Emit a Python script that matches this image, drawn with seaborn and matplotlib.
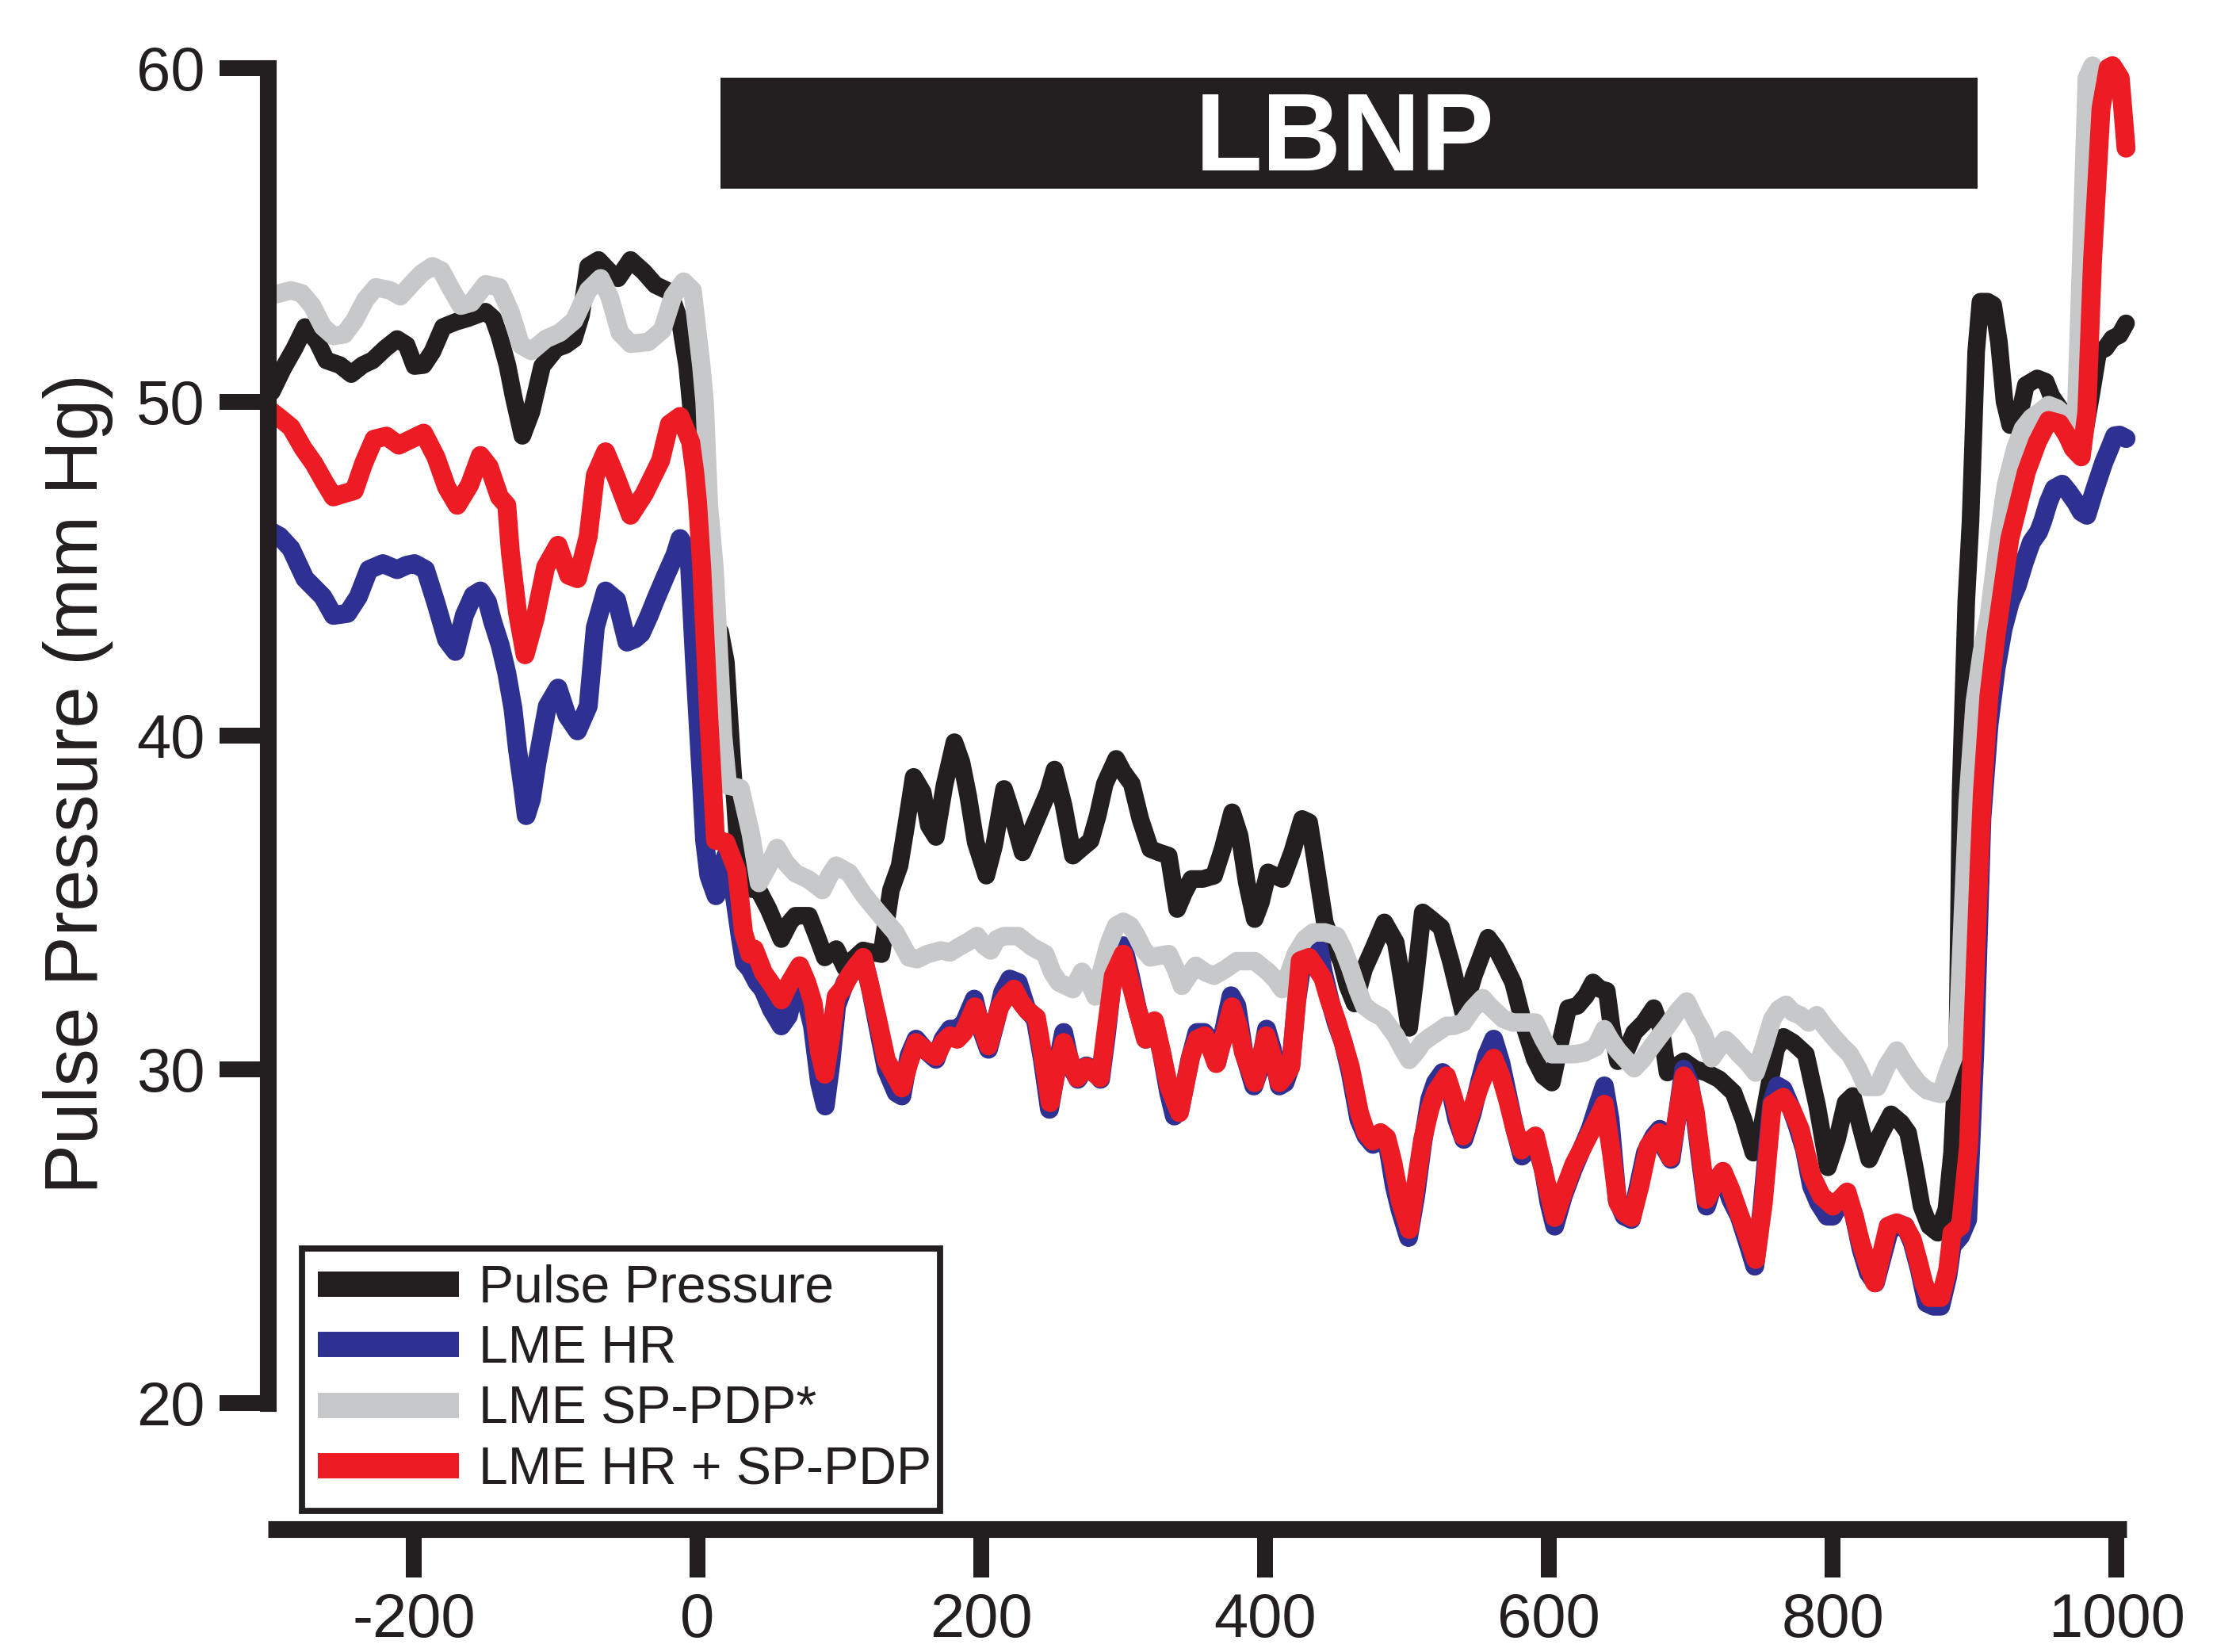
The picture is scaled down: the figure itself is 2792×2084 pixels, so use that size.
import matplotlib
matplotlib.use("Agg")
import matplotlib.pyplot as plt
from matplotlib.patches import Rectangle
from matplotlib.lines import Line2D
import seaborn as sns
import pandas as pd

# ---------------- data ----------------
pp_x = [-300, -292, -284, -276.6, -268, -261.6, -252, -244, -236, -229, -220, -211.7, -205, -199.4, -193,
        -186.8, -179.3, -170, -162, -149.4, -144, -139.6, -134, -129.6, -123.4, -117, -109.5, -99.5, -93,
        -87.1, -82, -77.1, -69.8, -62, -56, -47.2, -38, -29.7, -19.8, -12.3, -7.3, -2.2, 0, 5, 10, 16, 20,
        24, 28, 32, 38, 43, 50, 59, 65, 69, 78.5, 84, 89.7, 97.7, 104, 110, 116.7, 123, 129.6, 136.3,
        142.4, 147, 152.3, 158.7, 163, 168, 174, 181, 186, 190.7, 196, 203.5, 209, 216, 222, 229, 235,
        242, 247, 251.6, 258, 264.5, 270, 277, 282, 287, 295, 300, 306, 312, 319, 325, 332, 338, 343,
        348, 356, 364, 370, 376.7, 382, 387, 392.6, 397, 402, 407, 412, 419, 426, 431, 434, 442, 448,
        453.5, 458, 463, 469.7, 476, 484, 492, 497, 501.5, 506, 511, 517, 524, 531, 539.5, 547, 557,
        563, 569, 574.7, 582.5, 590, 596, 602, 608, 613.5, 620, 626, 631, 636, 640.7, 644, 648.5, 655,
        660, 667, 673.8, 679, 683.5, 690, 695, 703, 710.8, 720, 730, 737, 744, 750, 755.5, 760, 765.2,
        772, 781, 789, 796.5, 803, 809, 814, 820, 825.6, 833, 841, 848, 853, 858, 862.5, 868, 874, 880,
        884, 887.8, 890, 894, 897, 901, 904, 909, 913, 917, 921, 925, 929, 933, 936, 944, 950, 954, 960,
        967.5, 972, 977, 982, 987, 992, 997, 1002, 1006.6]
pp_y = [50.3, 51.0, 51.6, 52.24, 51.8, 51.24, 51.1, 50.83, 51.1, 51.24, 51.6, 51.88, 51.7, 51.07, 51.1,
        51.5, 52.24, 52.4, 52.5, 52.7, 52.5, 51.97, 51.1, 50.15, 48.98, 49.7, 51.07, 51.6, 51.7,
        51.88, 52.6, 54.06, 54.25, 53.9, 53.7, 54.25, 53.9, 53.5, 53.3, 52.4, 51.07, 48.8, 47.5, 45.0,
        43.5, 43.1, 42.2, 39.5, 37.0, 35.8, 35.4, 35.37, 34.8, 33.9, 34.4, 34.6, 34.6, 34.0, 33.35,
        33.6, 33.04, 33.3, 33.56, 33.5, 33.45, 35.37, 36.1, 37.3, 38.76, 38.3, 37.3, 36.96, 38.5, 39.8,
        39.2, 38.2, 36.8, 35.8, 36.7, 38.4, 37.6, 36.5, 37.1, 37.8, 38.3, 38.98, 37.9, 36.4, 36.6,
        36.85, 37.6, 38.55, 39.3, 38.9, 38.55, 37.5, 36.6, 36.5, 36.4, 34.8, 35.3, 35.7, 35.7, 35.8,
        36.6, 37.7, 37.0, 35.6, 34.5, 35.0, 35.9, 35.8, 35.7, 36.5, 37.5, 37.4, 36.6, 34.4, 33.7,
        33.25, 32.5, 31.97, 33.0, 33.6, 34.4, 33.8, 32.5, 31.24, 32.8, 34.7, 34.5, 34.25, 33.2, 31.7,
        32.8, 33.94, 33.6, 33.1, 32.6, 31.3, 30.3, 29.8, 29.6, 30.8, 31.83, 31.9, 32.2, 32.6, 32.4,
        32.35, 31.3, 30.24, 30.6, 31.1, 31.4, 31.83, 31.2, 29.9, 30.1, 30.24, 30.0, 29.9, 29.7, 29.3,
        28.5, 27.5, 28.3, 29.6, 30.6, 30.97, 30.8, 30.45, 28.9, 27.06, 27.9, 29.0, 29.2, 28.2, 27.3,
        28.0, 28.65, 28.4, 28.1, 27.0, 25.9, 25.3, 25.1, 25.8, 27.5, 30.86, 38.3, 44.0, 46.4, 51.5,
        53.0, 53.0, 52.9, 51.8, 50.0, 49.3, 49.3, 49.9, 50.5, 50.7, 50.6, 50.17, 49.8, 48.8, 48.7,
        48.98, 50.2, 51.5, 51.6, 51.9, 52.0, 52.35]

hr_x = [-300, -294.5, -286.5, -276.6, -264, -256.6, -246.6, -239, -231.6, -221.7, -211.7, -205, -199.4,
        -191.7, -184.3, -176.8, -170.6, -164.3, -158, -153, -148, -144.4, -139, -134.4, -130, -126.9,
        -123, -120.7, -117, -113.3, -105.8, -98.3, -92, -84.6, -77, -72, -64.8, -57, -49.7, -44, -39.7,
        -34, -29.7, -22.3, -16, -12.3, -6, -2.2, 2.7, 5, 8, 13, 17, 20, 25, 30, 33, 37, 42, 46, 52, 59,
        64, 68, 72, 77, 81, 86, 90, 94, 98, 104, 110, 117, 122, 127, 133, 140, 144, 149, 154, 160, 168,
        173, 178, 183, 188, 195, 200, 205, 210, 215, 220, 226, 232, 238, 243, 248, 253, 258, 263, 268,
        274, 279, 284, 288, 293, 300, 305, 310, 316, 322, 327, 332, 336, 340, 347, 352, 357, 361, 366,
        371, 376, 380, 385, 392, 396, 401, 405, 410, 414, 418, 422, 428, 433, 438, 441, 446, 450, 455,
        460, 466, 471, 476, 482, 486, 491, 495, 501, 506, 511, 516, 520, 525, 530, 535, 540, 546, 551,
        556, 561, 566, 571, 576, 581, 586, 590, 596, 600, 604, 610, 617, 623, 629, 635, 639, 643, 648,
        653, 658, 663, 668, 674, 678, 682, 686, 691, 695, 699, 703, 707, 711, 716, 722, 728, 734, 740,
        745, 750, 754, 757, 761, 765, 770, 775, 780, 785, 790, 796, 800, 805, 810, 815, 820, 825, 830,
        835, 840, 846, 851, 856, 861, 866, 871, 876, 881, 884, 890, 895, 900, 905, 910, 915, 920, 925,
        930, 935, 940, 945, 948, 952, 956, 961.6, 966, 971.3, 975, 979, 984, 990.8, 995, 998.6, 1002,
        1006.6]
hr_y = [46.1, 45.97, 45.6, 44.7, 44.16, 43.6, 43.66, 44.16, 44.97, 45.15, 44.97, 45.1, 45.15,
        44.97, 43.97, 42.87, 42.52, 43.6, 44.2, 44.33, 44.0, 43.42, 42.7, 41.87, 40.8, 39.6,
        38.4, 37.6, 38.1, 39.14, 40.88, 41.42, 40.6, 40.14, 40.88, 43.24, 44.33, 44.06, 42.8, 42.9, 43.06,
        43.6, 44.06, 44.8, 45.4, 45.9, 45.43, 42.3, 38.7, 36.86, 35.8, 35.2, 36.0, 36.4, 35.5, 34.0, 33.2,
        33.0, 32.6, 32.4, 31.8, 31.3, 31.6, 32.3, 32.9, 32.0, 31.3, 29.6, 28.9, 30.2, 31.9, 32.6, 33.0,
        33.3, 32.4, 31.3, 30.0, 29.3, 29.2, 30.4, 30.9, 30.6, 30.3, 30.9, 31.2, 31.2, 31.4, 32.1, 31.2,
        30.6, 31.4, 32.3, 32.7, 32.6, 31.8, 31.5, 30.3, 28.8, 30.0, 31.1, 30.1, 29.7, 30.1, 30.0, 29.7,
        31.0, 32.9, 33.7, 32.8, 31.8, 30.9, 31.4, 30.5, 29.3, 28.6, 28.8, 30.3, 31.1, 31.1, 30.9, 30.2,
        31.2, 32.2, 31.9, 30.5, 29.5, 30.0, 31.2, 30.6, 29.5, 29.6, 30.1, 32.0, 33.7, 33.9, 33.6, 32.9,
        32.0, 31.4, 30.8, 29.9, 28.5, 28.0, 27.75, 27.9, 27.8, 26.5, 25.8, 24.96, 26.2, 27.8, 29.1, 29.6,
        29.9, 29.5, 28.5, 27.9, 28.7, 29.6, 30.4, 30.9, 30.2, 29.2, 28.2, 27.4, 27.6, 27.9, 27.0, 26.0,
        25.3, 26.2, 27.0, 27.6, 28.2, 29.0, 29.5, 28.5, 26.1, 25.6, 25.5, 26.5, 27.5, 28.0, 28.2, 27.6,
        27.3, 28.8, 30.0, 29.6, 28.6, 27.2, 25.9, 26.6, 26.9, 26.1, 25.6, 24.8, 24.1, 25.8, 27.7, 29.0,
        29.5, 29.4, 28.9, 28.3, 27.6, 26.5, 26.0, 25.6, 25.6, 26.0, 26.2, 25.6, 24.6, 23.9, 23.6, 24.4,
        25.2, 25.3, 25.3, 24.8, 24.0, 23.0, 22.9, 22.9, 23.8, 24.7, 25.0, 25.5, 30.5, 37.5, 40.3, 42.0,
        43.2, 44.0, 44.5, 45.2, 45.8, 46.1, 46.44, 47.0, 47.4, 47.53, 47.3, 46.98, 46.7, 46.6, 47.3,
        48.17, 48.6, 48.98, 49.0, 48.9]

sp_x = [-300, -294.5, -286.5, -279, -271.6, -264, -256.6, -249, -241.8, -234, -226.7, -216.7, -209.4,
        -201.7, -194.3, -186.8, -180.5, -174.3, -166.8, -159.3, -149.4, -139.6, -131.9, -124.5, -117,
        -107, -97, -87, -77, -68.3, -62, -54.7, -47.2, -34.7, -24.8, -17.3, -9.8, -3.5, 2.7, 5, 8, 12,
        15, 18, 21.4, 30.2, 37.6, 43.3, 50, 56, 62, 68.8, 78.5, 88, 93, 97.7, 102, 107, 116.7, 126.6,
        139.4, 149, 155, 161.9, 171.5, 178, 184.3, 190, 197, 202, 206.6, 211, 216, 226, 235.6, 245, 250,
        254.7, 264.5, 270.9, 276, 280.4, 285, 290, 295, 300, 305, 309.5, 314, 319, 325, 332, 337, 341.3,
        346, 351, 358, 364, 372, 380, 392.6, 402, 407, 412, 417, 421.5, 428, 434, 442, 450.4, 455, 460,
        465, 469.7, 476, 482.6, 492, 497, 501.5, 506, 511, 516.3, 521, 527.8, 533, 539.5, 546, 553.3,
        558, 563, 568, 574.7, 582, 590.4, 596, 602, 610, 617.5, 625, 632.8, 639, 643, 648.5, 654, 660,
        666, 672, 678, 683.5, 690, 697, 703, 708.8, 714.6, 719, 724.4, 729, 734, 740, 745.6, 751, 757.3,
        762, 767, 772, 777, 783, 788.6, 794, 800.3, 806, 812, 818, 823.6, 831.4, 838, 845, 850, 854.6,
        860, 866.3, 872, 876, 882, 887.8, 890, 895, 900, 905, 910, 917, 922, 928.6, 934, 940, 946, 952,
        958, 963.5, 968, 971.3, 975, 979, 983]
sp_y = [53.2, 53.25, 53.34, 53.25, 52.88, 52.25, 51.97, 52.02, 52.43, 53.06, 53.43, 53.34, 53.16,
        53.52, 53.85, 54.06, 53.93, 53.43, 52.88, 52.97, 53.52, 53.43, 52.7, 51.7, 51.52,
        51.88, 52.07, 52.43, 53.34, 53.7, 53.16, 52.07, 51.74, 51.79, 52.15, 53.16, 53.6, 53.34, 51.07,
        50.0, 46.9, 45.0, 42.5, 40.0, 38.5, 38.42, 37.05, 35.58, 36.1, 36.63, 36.2, 35.88, 35.68, 35.37,
        35.8, 36.1, 36.0, 35.88, 35.25, 34.73, 34.1, 33.35, 33.3, 33.45, 33.56, 33.5, 33.67, 33.8, 33.99,
        33.7, 33.56, 33.9, 33.99, 33.99, 33.67, 33.45, 32.9, 32.6, 32.4, 32.92, 32.6, 32.18, 33.0, 33.78,
        34.3, 34.42, 34.3, 33.99, 33.6, 33.35, 33.4, 33.45, 33.0, 32.5, 32.8, 33.1, 32.9, 32.8, 33.0,
        33.24, 33.24, 32.92, 32.7, 32.4, 32.9, 33.45, 33.9, 34.1, 34.1, 33.99, 33.6, 33.04, 32.4, 31.9,
        31.7, 31.55, 31.0, 30.6, 30.28, 30.5, 30.8, 30.97, 31.1, 31.3, 31.3, 31.4, 31.8, 32.13, 31.9,
        31.7, 31.5, 31.4, 31.4, 31.4, 30.9, 30.45, 30.45, 30.45, 30.5, 30.66, 31.2, 30.9, 30.56, 30.3,
        30.03, 30.3, 30.66, 31.0, 31.3, 31.7, 32.03, 31.5, 31.07, 30.33, 30.6, 30.88, 30.7, 30.45, 30.2,
        29.9, 30.6, 31.5, 31.8, 31.93, 31.7, 31.62, 31.4, 31.62, 31.3, 30.97, 30.7, 30.45, 30.0, 29.47,
        29.47, 30.1, 30.56, 30.2, 29.9, 29.6, 29.37, 29.3, 29.26, 30.03, 30.66, 33.0, 38.0, 41.0, 42.5,
        43.6, 46.0, 47.5, 48.6, 49.2, 49.52, 49.7, 49.9, 49.8, 49.6, 49.5, 49.44, 54.25, 59.7, 60.07]

comb_x = [-300, -294.5, -286.5, -277.8, -270.3, -263, -256.6, -249, -241.8, -235.3, -227.9, -219.2,
          -210.5, -201.7, -193, -184.3, -176.8, -169.3, -160.6, -153, -146.9, -139.6, -134.4, -131.9,
          -126.9, -121.5, -114.5, -107, -98.3, -90.8, -84.6, -77, -72, -64.8, -57, -47.2, -37.4, -26,
          -19.8, -12.3, -4.8, -2, 0, 3, 8, 12.7, 20, 27.6, 32.4, 36.9, 40, 46.4, 53, 59.2, 65, 72, 77,
          81.5, 86, 89.7, 94, 97.7, 102, 107, 112, 116.7, 121, 126.6, 133, 138, 144, 149, 153.9, 160,
          168, 173, 177.9, 183, 187.5, 195.5, 200, 205, 209, 213, 218, 223, 228, 232.4, 238.8, 243,
          248.5, 253, 258, 263, 267.6, 274, 279, 283.7, 288, 293, 300, 305, 309.5, 315.7, 322, 327, 332,
          339.6, 347.6, 352, 357.4, 361, 365.5, 371, 376.6, 381, 384.7, 392.6, 396, 400.7, 405, 410, 414,
          418, 424.7, 431, 435, 440.7, 445, 450.4, 455, 460, 466.4, 471, 475.8, 481.3, 485.6, 490, 495.2,
          501.5, 506, 511, 516, 520, 527.8, 533, 539.5, 545, 551, 556, 561, 566, 570.9, 576, 580.6, 585,
          590.4, 597, 604, 610, 617.5, 623, 629, 634, 639, 644, 648.5, 653, 658.3, 664, 670, 677.8,
          685.4, 690, 695, 699, 703, 707, 710.8, 716, 722.5, 728, 734, 740, 745.6, 751, 757.3, 765, 771,
          777, 784.7, 792, 800, 805, 810, 815, 819.7, 825, 829.5, 834, 839, 845, 850.7, 856, 860.5, 864,
          868.3, 876, 881, 884, 890, 895.6, 899.4, 903, 905.4, 910, 915, 920, 924.7, 930, 936.4, 944.2,
          952, 959.8, 965, 969.4, 975, 979, 983, 989, 994, 997, 1002.5, 1006.6]
comb_y = [49.7, 49.52, 49.24, 48.6, 48.15, 47.6, 47.15, 47.25, 47.34, 48.15, 48.88, 48.97,
          48.7, 48.88, 49.06, 48.34, 47.44, 46.9, 47.51, 48.39, 48.06, 47.15, 46.9, 45.5,
          43.7, 42.42, 43.5, 45.05, 45.7, 44.8, 44.7, 45.97, 47.8, 48.5, 47.7, 46.6, 47.25, 48.24,
          49.33, 49.56, 48.79, 47.9, 47.0, 45.0, 40.5, 36.86, 36.8, 35.96, 34.1, 33.45, 33.6, 32.9, 32.5,
          32.08, 32.6, 33.1, 32.6, 31.97, 30.5, 29.85, 31.0, 32.18, 32.4, 32.8, 33.1, 33.35, 32.6, 31.55,
          30.28, 29.9, 29.44, 30.2, 30.8, 30.6, 30.38, 30.8, 31.0, 30.9, 31.1, 31.87, 31.3, 30.7, 31.3,
          31.87, 32.2, 32.4, 32.0, 31.76, 31.55, 30.5, 29.0, 30.0, 30.8, 30.2, 29.74, 30.07, 29.9, 29.74,
          31.2, 32.8, 33.45, 32.6, 31.87, 30.9, 31.45, 30.5, 29.5, 28.7, 30.38, 30.9, 31.0, 30.7, 30.17,
          31.0, 31.87, 31.3, 30.5, 29.6, 30.2, 31.0, 30.4, 29.6, 29.8, 30.07, 33.25, 33.35, 33.1, 32.73,
          32.1, 31.45, 30.8, 30.07, 28.7, 28.1, 27.85, 28.1, 27.95, 27.2, 26.05, 25.2, 26.5, 27.9, 28.8,
          29.3, 29.8, 29.1, 28.0, 28.7, 29.47, 30.0, 30.33, 29.8, 29.07, 28.2, 27.58, 27.8, 28.0, 26.8,
          25.56, 26.3, 27.15, 27.6, 28.1, 28.5, 28.95, 27.5, 26.0, 25.7, 25.56, 26.5, 27.7, 28.1, 27.36,
          28.5, 29.8, 29.5, 28.74, 27.4, 26.1, 26.5, 26.94, 26.4, 25.67, 25.0, 24.3, 26.0, 28.95, 29.16,
          28.8, 28.2, 26.85, 26.2, 25.9, 26.1, 26.32, 25.6, 24.8, 24.1, 23.6, 24.4, 25.3, 25.4, 25.3,
          24.9, 24.2, 23.6, 23.16, 23.16, 24.0, 25.1, 25.3, 27.7, 31.93, 36.0, 38.3, 41.2, 43.0, 44.5,
          45.9, 46.8, 47.9, 48.8, 49.44, 49.35, 49.0, 48.6, 48.35, 49.7, 54.25, 58.8, 60.0, 60.07, 59.7,
          57.6]

series_names = ["Pulse Pressure", "LME HR", "LME SP-PDP*", "LME HR + SP-PDP"]
x_ticks = [-200, 0, 200, 400, 600, 800, 1000]
y_ticks = [20, 30, 40, 50, 60]
banner_label = "LBNP"
banner_start, banner_end = 16.2, 902
y_label = "Pulse Pressure (mm Hg)"

# ---------------- styling ----------------
INK = "#231F20"
colors = [INK, "#2E3192", "#C7C8CA", "#ED1C24"]
widths = [8.0, 8.6, 8.4, 8.6]

sns.set_theme(style="white")
plt.rcParams["font.family"] = ["Liberation Sans", "DejaVu Sans"]
plt.rcParams["axes.unicode_minus"] = False

W, H, DPI = 2792, 2084, 200
fig = plt.figure(figsize=(W / DPI, H / DPI), dpi=DPI)
fig.patch.set_facecolor("white")
ax = fig.add_axes([337.5 / W, (H - 1929) / H, 2345.5 / W, 1855.8 / H])
ax.set_facecolor("white")

frames = [pd.DataFrame({"t": pp_x, "v": pp_y}), pd.DataFrame({"t": hr_x, "v": hr_y}),
          pd.DataFrame({"t": sp_x, "v": sp_y}), pd.DataFrame({"t": comb_x, "v": comb_y})]
for i, (df, c, lw) in enumerate(zip(frames, colors, widths)):
    sns.lineplot(data=df, x="t", y="v", ax=ax, color=c, linewidth=lw, sort=False,
                 estimator=None, zorder=2 + i, legend=False)
for ln in ax.lines:
    ln.set_solid_capstyle("round")
    ln.set_solid_joinstyle("round")
    ln.set_clip_on(False)

ax.set_xlim(-303, 1007)
ax.set_ylim(16.22, 60.3)
ax.set_xticks(x_ticks)
ax.set_yticks(y_ticks)
ax.set_xticklabels([str(v) for v in x_ticks])
ax.set_yticklabels([str(v) for v in y_ticks])
ax.set_xlabel("")
ax.set_ylabel(y_label, fontsize=34, color=INK)
ax.yaxis.set_label_coords(-0.083, 0.507)

for s in ["top", "right"]:
    ax.spines[s].set_visible(False)
for s in ["left", "bottom"]:
    ax.spines[s].set_linewidth(7.6)
    ax.spines[s].set_color(INK)
    ax.spines[s].set_zorder(10)
ax.spines["left"].set_capstyle("projecting")
ax.spines["bottom"].set_capstyle("butt")
ax.spines["left"].set_bounds(20, 60)

ax.tick_params(axis="both", which="major", direction="out", length=22, width=7.2, color=INK,
               labelsize=28, labelcolor=INK, pad=6.5, bottom=True, left=True,
               top=False, right=False)
ax.grid(False)

# LBNP banner
ax.add_patch(Rectangle((banner_start, 56.39), banner_end - banner_start, 59.72 - 56.39,
                       facecolor=INK, edgecolor="none", zorder=8, clip_on=False))
ax.text(456, 56.94, banner_label, color="white", fontsize=50, fontweight="bold",
        ha="center", va="baseline", zorder=9)

# legend
handles = [Line2D([0], [0], color=c, linewidth=11.5, solid_capstyle="butt") for c in colors]
leg = ax.legend(handles, series_names, loc="upper left",
                bbox_to_anchor=(381 / W, (H - 1575) / H - 0.2, 805 / W, 0.2),
                bbox_transform=fig.transFigure, mode="expand", borderaxespad=0,
                fontsize=23.8, handlelength=2.7, handletextpad=0.38, labelspacing=0.22,
                borderpad=0.3, frameon=True, fancybox=False, framealpha=1)
leg.get_frame().set_edgecolor(INK)
leg.get_frame().set_linewidth(2.8)
for t in leg.get_texts():
    t.set_color(INK)
leg.set_zorder(20)

fig.savefig("out.png", dpi=DPI, facecolor="white")
